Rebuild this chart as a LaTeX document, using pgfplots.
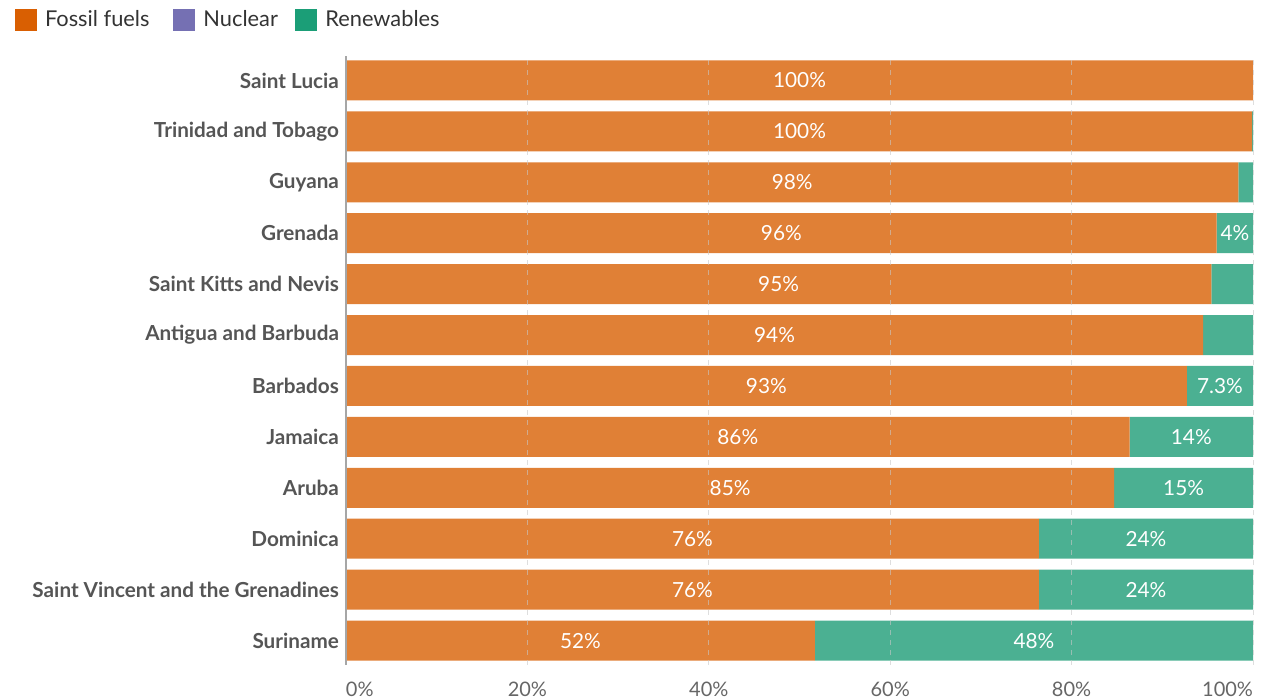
\documentclass[border=0pt]{standalone}
\usepackage{pgfplots}
\usepackage{pgfplotstable}
\pgfplotsset{compat=1.18}
\usepackage{fontspec}
\setmainfont{Lato}
\definecolor{fossilbar}{HTML}{E08036}
\definecolor{renewbar}{HTML}{4BB092}
\definecolor{fossil}{HTML}{D95F02}
\definecolor{nuclear}{HTML}{7570B3}
\definecolor{renew}{HTML}{1B9E77}
\definecolor{labelgray}{HTML}{555555}
\definecolor{tickgray}{HTML}{666666}
\definecolor{legtext}{HTML}{333333}
\definecolor{gridc}{HTML}{C8C8C8}

% idx 0 = Suriname (bottom) ... 11 = Saint Lucia (top)
\pgfplotstableread{
idx fossil renew
0  51.7 48.3
1  76.4 23.6
2  76.4 23.6
3  84.7 15.3
4  86.4 13.6
5  92.7 7.3
6  94.5 5.5
7  95.4 4.6
8  96.0 4.0
9  98.4 1.6
10 99.9 0.1
11 100  0
}\sharetable

\pgfplotstableread{
idx xpos lab
0  25.85 52
0  75.85 48
1  38.2  76
1  88.2  24
2  38.2  76
2  88.2  24
3  42.35 85
3  92.35 15
4  43.2  86
4  93.2  14
5  46.35 93
5  96.35 7.3
6  47.25 94
7  47.7  95
8  48.0  96
8  98.0  4
9  49.2  98
10 50.0  100
11 50.0  100
}\labeltable

\begin{document}
\begin{tikzpicture}
\pgfplotsset{
  common/.style={
    scale only axis, width=453.5pt, height=304.5pt,
    xmin=0, xmax=100, ymin=-0.48, ymax=11.48,
    at={(0,0)}, anchor=south west,
    axis line style={draw=none},
    tick style={draw=none},
  },
}
\begin{axis}[
  common,
  name=main,
  xbar stacked, bar width=20pt,
  ytick={0,...,11},
  yticklabels={Suriname, Saint Vincent and the Grenadines, Dominica, Aruba, Jamaica, Barbados, Antigua and Barbuda, Saint Kitts and Nevis, Grenada, Guyana, Trinidad and Tobago, Saint Lucia},
  yticklabel style={font=\fontsize{10.35}{12}\selectfont\bfseries, text=labelgray},
  xtick={0,20,40,60,80,100},
  xticklabels={\makebox[0pt][l]{0\%},20\%,40\%,60\%,80\%,\makebox[0pt][r]{100\%}},
  xticklabel style={font=\fontsize{10}{12}\selectfont, text=tickgray, yshift=-5pt},
  legend columns=-1,
  legend style={at={(-0.3649,1.082)}, anchor=north west, draw=none, fill=none,
    inner sep=0pt, outer sep=0pt,
    font=\fontsize{10.9}{12}\selectfont, text=legtext,
    /tikz/every even column/.append style={column sep=10pt}},
  legend image code/.code={\fill[#1] (0pt,-5.5pt) rectangle (11pt,5.5pt); \path (13pt,0pt);},
]
\addlegendimage{fill=fossil, draw=none}
\addlegendimage{fill=nuclear, draw=none}
\addlegendimage{fill=renew, draw=none, legend image code/.code={\fill[fill=renew, draw=none, overlay] (-3.25pt,-5.5pt) rectangle (7.75pt,5.5pt); \path[draw=none, fill=none] (0pt,0pt) -- (9.75pt,0pt);}}
\addplot[forget plot, fill=fossilbar, draw=none] table[x=fossil, y=idx] {\sharetable};
\addplot[forget plot, fill=renewbar, draw=none] table[x=renew, y=idx] {\sharetable};
\legend{Fossil fuels, Nuclear, Renewables}
\end{axis}
\begin{axis}[
  common,
  ytick=\empty,
  xtick={20,40,60,80,100},
  xticklabels={},
  xmajorgrids,
  major grid style={dash pattern=on 2.5pt off 2.5pt, line width=0.5pt, color=gridc, opacity=0.6},
  extra x ticks={0},
  extra x tick labels={},
  extra x tick style={major grid style={solid, color=gray!70, line width=0.8pt, opacity=1}},
]
\addplot[only marks, mark=none,
  nodes near coords={\pgfplotspointmeta\%},
  point meta=explicit symbolic,
  every node near coord/.style={anchor=center, text=white, font=\fontsize{10.4}{12}\selectfont}]
  table[x=xpos, y=idx, meta=lab] {\labeltable};
\end{axis}
\pgfresetboundingbox
\path (main.south west) ++(-173pt,-16.5pt) rectangle ++(636.5pt,349pt);
\end{tikzpicture}
\end{document}
